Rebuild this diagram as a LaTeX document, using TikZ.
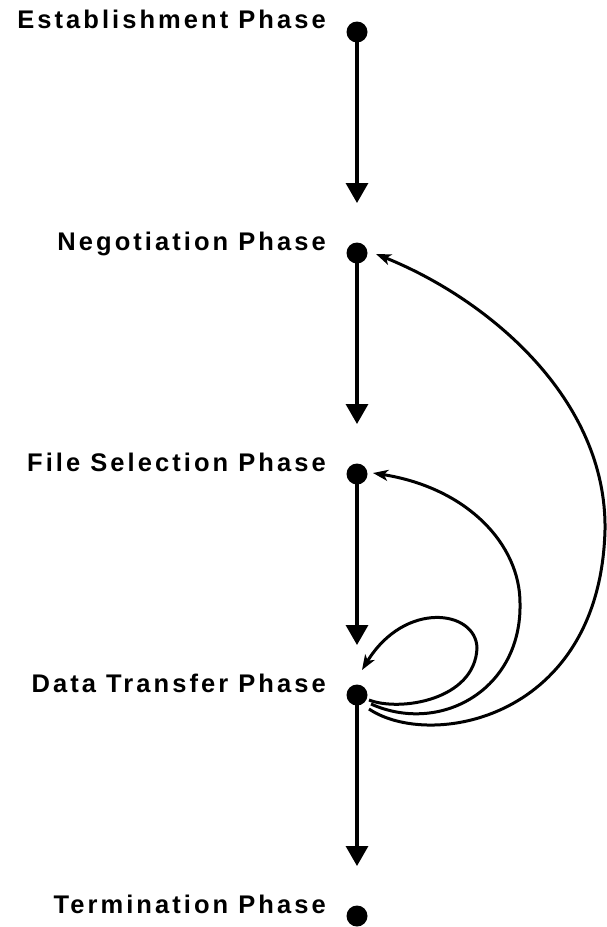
\documentclass[tikz,border=0pt]{standalone}
\usepackage{fontspec}
\setmainfont{Liberation Sans}[LetterSpace=12]
\usetikzlibrary{arrows.meta}
\begin{document}
\begin{tikzpicture}[x=1pt,y=-1pt,
  phasedot/.style={circle,fill=black,inner sep=0pt,minimum size=21pt},
  phaselabel/.style={anchor=base east,inner sep=0pt,font=\fontsize{25.5}{30}\selectfont\bfseries},
  vline/.style={line width=3.3pt,-{Triangle[width=22pt,length=20pt]}},
  loopline/.style={line width=3pt,-{Stealth[width=11pt,length=15pt,inset=4pt]}}]
\useasboundingbox (0,0) rectangle (607,927);
% dots
\node[phasedot] (d1) at (357,32) {};
\node[phasedot] (d2) at (357,253) {};
\node[phasedot] (d3) at (357,474) {};
\node[phasedot] (d4) at (357,695) {};
\node[phasedot] (d5) at (357,916) {};
% labels
\node[phaselabel] (l1) at (326,28) {Establishment Phase};
\node[phaselabel] (l2) at (326,250) {Negotiation Phase};
\node[phaselabel] (l3) at (326,471) {File Selection Phase};
\node[phaselabel] (l4) at (326,692) {Data Transfer Phase};
\node[phaselabel] (l5) at (326,913) {Termination Phase};
% arrow tips
\coordinate (t2) at (357,203);
\coordinate (t3) at (357,424);
\coordinate (t4) at (357,645);
\coordinate (t5) at (357,866);
\draw[vline] (d1.center) -- (t2);
\draw[vline] (d2.center) -- (t3);
\draw[vline] (d3.center) -- (t4);
\draw[vline] (d4.center) -- (t5);
% return curves
\coordinate (s1) at (369,700);
\coordinate (s2) at (371,704);
\coordinate (s3) at (369,709);
\coordinate (e1) at (362,670);
\coordinate (e2) at (373,473);
\coordinate (e3) at (376,254);
\draw[loopline] (s1) .. controls (400,712) and (475,700) .. (477,648)
  .. controls (476,610) and (405,600) .. (e1);
\draw[loopline] (s2) .. controls (440,735) and (522,690) .. (520,603)
  .. controls (520,545) and (468,488) .. (e2);
\draw[loopline] (s3) .. controls (430,750) and (600,720) .. (605,530)
  .. controls (607,400) and (490,300) .. (e3);
\end{tikzpicture}
\end{document}
